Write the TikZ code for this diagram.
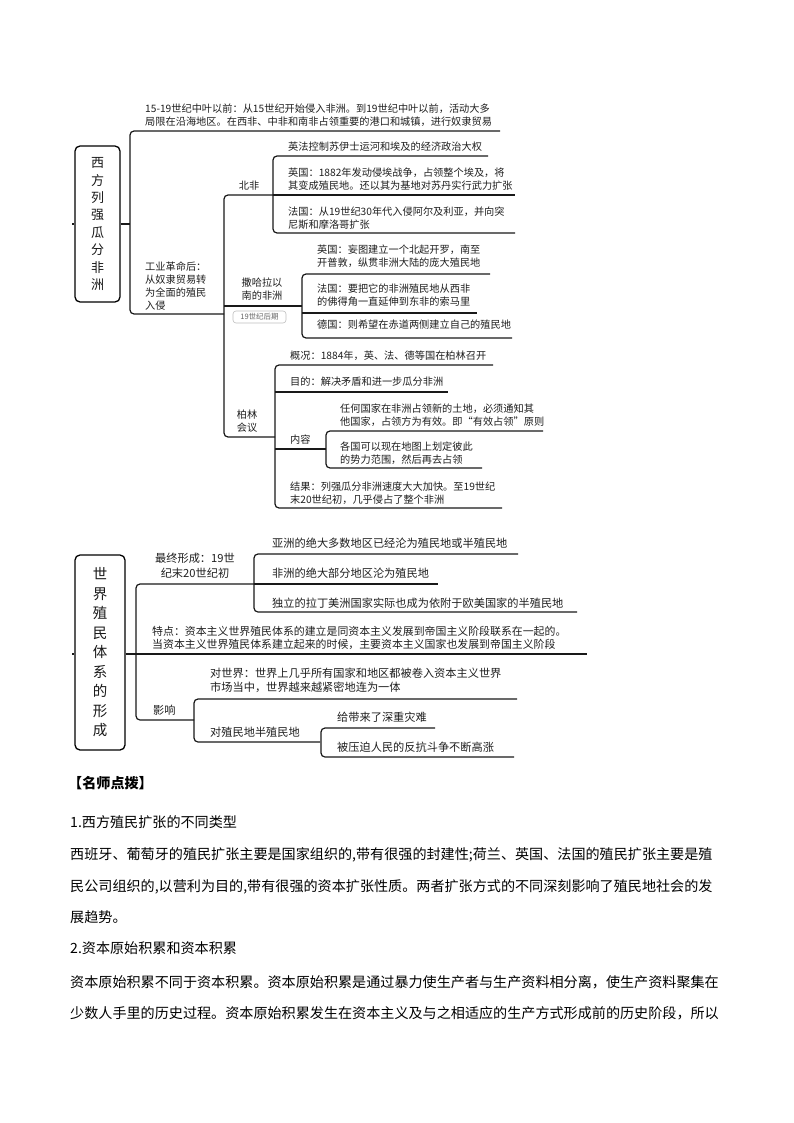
\documentclass[tikz,border=0pt]{standalone}
\usepackage{fontspec}
\setmainfont{Noto Sans CJK SC}
\XeTeXlinebreaklocale "zh"
\XeTeXlinebreakskip=0pt plus 3pt
\tikzset{
  ln/.style={line width=1.2pt, black!90, rounded corners=4pt},
  ta/.style={anchor=west, inner sep=0pt, align=left, font=\fontsize{10.2}{13}\selectfont, text=black!88},
  tac/.style={anchor=center, inner sep=0pt, align=center, font=\fontsize{10.2}{13}\selectfont, text=black!88},
  tb/.style={anchor=west, inner sep=0pt, align=left, font=\fontsize{11.2}{14.5}\selectfont, text=black!88},
  tbc/.style={anchor=center, inner sep=0pt, align=center, font=\fontsize{11.2}{14.5}\selectfont, text=black!88},
  rootbox/.style={draw, line width=1.3pt, rounded corners=5pt, align=center, inner sep=0pt, text=black!90},
  badge/.style={draw=black!25, fill=white, rounded corners=3pt, line width=0.6pt, minimum width=53pt, minimum height=12pt, inner sep=1pt, font=\fontsize{7.5}{9}\selectfont, text=black!60},
  plain/.style={anchor=west, inner sep=0pt, font=\fontsize{14.1}{18}\selectfont, text=black},
  para/.style={anchor=west, inner sep=0pt, font=\fontsize{14.1}{18}\selectfont, text=black, text width=652pt, align=justify},
}
\newcommand{\fullline}[1]{\tolerance=10000 \pretolerance=10000 \hbadness=10000 \parfillskip=0pt #1}
\begin{document}
\begin{tikzpicture}[x=1pt,y=-1pt]
\useasboundingbox (0,0) rectangle (794,1123);
\fill[white] (0,0) rectangle (794,1123);

% ---------------- Map 1 ----------------
\node[rootbox, minimum width=45pt, minimum height=156pt, font=\fontsize{13}{17.4}\selectfont] (r1) at (97.5,224) {西\\方\\列\\强\\瓜\\分\\非\\洲};
\coordinate (t1) at (72,224);
\coordinate (s1) at (130,224);
\draw[ln] (t1) -- (r1.west);
\draw[ln] (r1.east) -- (s1);
\draw[ln] (500,131) -- (130,131) -- (130,314) -- (224,314);

\node[ta] (m1a) at (145,115) {15-19世纪中叶以前：从15世纪开始侵入非洲。到19世纪中叶以前，活动大多\\局限在沿海地区。在西非、中非和南非占领重要的港口和城镇，进行奴隶贸易};
\node[ta] (m1b) at (145,286.5) {工业革命后：\\从奴隶贸易转\\为全面的殖民\\入侵};

% spine 2
\draw[ln] (273,195) -- (224,195) -- (224,437) -- (275,437);
\draw[ln] (224,306) -- (302,306);

% 北非
\node[tac] (bf) at (249,186) {北非};
\draw[ln] (488,156) -- (273,156) -- (273,233) -- (515,233);
\draw[ln] (273,195) -- (515,195);
\node[ta] (bf1) at (288,147) {英法控制苏伊士运河和埃及的经济政治大权};
\node[ta] (bf2) at (288,179.5) {英国：1882年发动侵埃战争，占领整个埃及，将\\其变成殖民地。还以其为基地对苏丹实行武力扩张};
\node[ta] (bf3) at (288,218) {法国：从19世纪30年代入侵阿尔及利亚，并向突\\尼斯和摩洛哥扩张};

% 撒哈拉以南
\node[tac] (sh) at (262,289.5) {撒哈拉以\\南的非洲};
\node[badge] (bd) at (259.5,317) {19世纪后期};
\draw[ln] (490,274) -- (302,274) -- (302,338) -- (512,338);
\draw[ln] (302,313) -- (477,313);
\node[ta] (sh1) at (317,256.5) {英国：妄图建立一个北起开罗，南至\\开普敦，纵贯非洲大陆的庞大殖民地};
\node[ta] (sh2) at (317,295) {法国：要把它的非洲殖民地从西非\\的佛得角一直延伸到东非的索马里};
\node[ta] (sh3) at (317,325) {德国：则希望在赤道两侧建立自己的殖民地};

% 柏林会议
\node[tac] (bl) at (247,421) {柏林\\会议};
\draw[ln] (493,365) -- (275,365) -- (275,508) -- (502,508);
\draw[ln] (275,392) -- (448,392);
\draw[ln] (275,449) -- (326,449);
\draw[ln] (543,431) -- (326,431) -- (326,468) -- (482,468);
\node[ta] (bl1) at (290,356) {概况：1884年，英、法、德等国在柏林召开};
\node[ta] (bl2) at (290,382) {目的：解决矛盾和进一步瓜分非洲};
\node[ta] (bl3) at (290,440) {内容};
\node[ta] (bl31) at (340,415) {任何国家在非洲占领新的土地，必须通知其\\他国家，占领方为有效。即“有效占领”原则};
\node[ta] (bl32) at (340,453) {各国可以现在地图上划定彼此\\的势力范围，然后再去占领};
\node[ta] (bl4) at (290,493) {结果：列强瓜分非洲速度大大加快。至19世纪\\末20世纪初，几乎侵占了整个非洲};

% ---------------- Map 2 ----------------
\node[rootbox, minimum width=50pt, minimum height=195pt, font=\fontsize{14.5}{19.5}\selectfont] (r2) at (100,652.5) {世\\界\\殖\\民\\体\\系\\的\\形\\成};
\coordinate (t2) at (72,654);
\coordinate (s2) at (136,654);
\draw[ln] (t2) -- (r2.west |- t2);
\draw[ln] (r2.east |- s2) -- (s2);
\draw[ln] (254,584) -- (136,584) -- (136,720) -- (194,720);
\draw[ln] (136,654) -- (587,654);

\node[tbc] (zz) at (195,565.5) {最终形成：19世\\纪末20世纪初};
\draw[ln] (518,554) -- (254,554) -- (254,612) -- (577,612);
\draw[ln] (254,584) -- (438,584);
\node[tb] (zz1) at (272,543) {亚洲的绝大多数地区已经沦为殖民地或半殖民地};
\node[tb] (zz2) at (272,573) {非洲的绝大部分地区沦为殖民地};
\node[tb] (zz3) at (272,603) {独立的拉丁美洲国家实际也成为依附于欧美国家的半殖民地};

\node[tb, font=\fontsize{10.9}{13}\selectfont] (td) at (152,638) {特点：资本主义世界殖民体系的建立是同资本主义发展到帝国主义阶段联系在一起的。\\当资本主义世界殖民体系建立起来的时候，主要资本主义国家也发展到帝国主义阶段};

\node[tb] (yx) at (153,710) {影响};
\draw[ln] (517,699) -- (194,699) -- (194,742) -- (320,742);
\draw[ln] (435,728) -- (321,728) -- (321,757) -- (514,757);
\node[tb] (yx1) at (210,680.5) {对世界：世界上几乎所有国家和地区都被卷入资本主义世界\\市场当中，世界越来越紧密地连为一体};
\node[tb] (yx2) at (210,732) {对殖民地半殖民地};
\node[tb] (yx21) at (337,717) {给带来了深重灾难};
\node[tb] (yx22) at (337,747) {被压迫人民的反抗斗争不断高涨};

% ---------------- Text ----------------
\node[plain, font=\fontsize{14.1}{18}\selectfont\bfseries] (h0) at (68,783) {【名师点拨】};
\node[plain] (h1) at (70,822) {1.西方殖民扩张的不同类型};
\node[para] (p1) at (70,855) {\fullline{西班牙、葡萄牙的殖民扩张主要是国家组织的,带有很强的封建性;荷兰、英国、法国的殖民扩张主要是殖}};
\node[para] (p2) at (70,887) {\fullline{民公司组织的,以营利为目的,带有很强的资本扩张性质。两者扩张方式的不同深刻影响了殖民地社会的发}};
\node[plain] (p3) at (70,917) {展趋势。};
\node[plain] (h2) at (70,948) {2.资本原始积累和资本积累};
\node[para] (p4) at (70,982) {\fullline{资本原始积累不同于资本积累。资本原始积累是通过暴力使生产者与生产资料相分离，使生产资料聚集在}};
\node[para] (p5) at (70,1013) {\fullline{少数人手里的历史过程。资本原始积累发生在资本主义及与之相适应的生产方式形成前的历史阶段，所以}};
\end{tikzpicture}
\end{document}
